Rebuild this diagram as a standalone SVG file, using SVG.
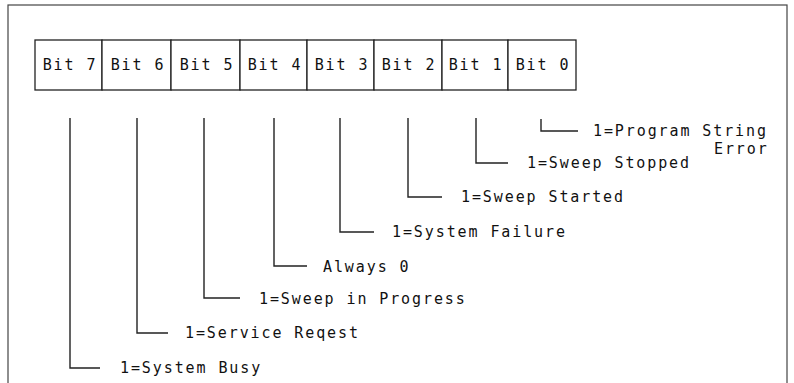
<svg xmlns="http://www.w3.org/2000/svg" width="794" height="383" viewBox="0 0 794 383">
<style>
.frame{fill:none;stroke:#444;stroke-width:1.2}
.box{fill:#fff;stroke:#222;stroke-width:1.3}
.conn{fill:none;stroke:#222;stroke-width:1.4}
text{font-family:"DejaVu Sans Mono","Liberation Mono",monospace;font-size:15px;letter-spacing:1.9px;fill:#111}
.bl{text-anchor:middle}
</style>
<rect class="frame" x="8" y="5" width="779" height="390"/>
<g id="register">
<g id="bit7"><rect class="box" x="35" y="40" width="67" height="50"/><text class="bl" x="70" y="70">Bit 7</text></g>
<g id="bit6"><rect class="box" x="102" y="40" width="69" height="50"/><text class="bl" x="138" y="70">Bit 6</text></g>
<g id="bit5"><rect class="box" x="171" y="40" width="69" height="50"/><text class="bl" x="207" y="70">Bit 5</text></g>
<g id="bit4"><rect class="box" x="240" y="40" width="67" height="50"/><text class="bl" x="275" y="70">Bit 4</text></g>
<g id="bit3"><rect class="box" x="307" y="40" width="67" height="50"/><text class="bl" x="342" y="70">Bit 3</text></g>
<g id="bit2"><rect class="box" x="374" y="40" width="68" height="50"/><text class="bl" x="409" y="70">Bit 2</text></g>
<g id="bit1"><rect class="box" x="442" y="40" width="66" height="50"/><text class="bl" x="476" y="70">Bit 1</text></g>
<g id="bit0"><rect class="box" x="508" y="40" width="68" height="50"/><text class="bl" x="543" y="70">Bit 0</text></g>
</g>
<g id="connectors">
<polyline class="conn" points="70,118 70,368 100,368"/>
<polyline class="conn" points="137,118 137,333 168,333"/>
<polyline class="conn" points="204,118 204,298 240,298"/>
<polyline class="conn" points="274,118 274,266 307,266"/>
<polyline class="conn" points="340,118 340,232 374,232"/>
<polyline class="conn" points="408,118 408,197 442,197"/>
<polyline class="conn" points="476,118 476,163 508,163"/>
<polyline class="conn" points="541,119 541,131 578,131"/>
</g>
<g id="labels">
<g id="label7"><text x="120" y="373">1=System Busy</text></g>
<g id="label6"><text x="185" y="338">1=Service Reqest</text></g>
<g id="label5"><text x="259" y="304">1=Sweep in Progress</text></g>
<g id="label4"><text x="323" y="272">Always 0</text></g>
<g id="label3"><text x="392" y="237">1=System Failure</text></g>
<g id="label2"><text x="461" y="202">1=Sweep Started</text></g>
<g id="label1"><text x="527" y="168">1=Sweep Stopped</text></g>
<g id="label0"><text x="593" y="136">1=Program String</text><text x="714" y="154">Error</text></g>
</g>
</svg>
